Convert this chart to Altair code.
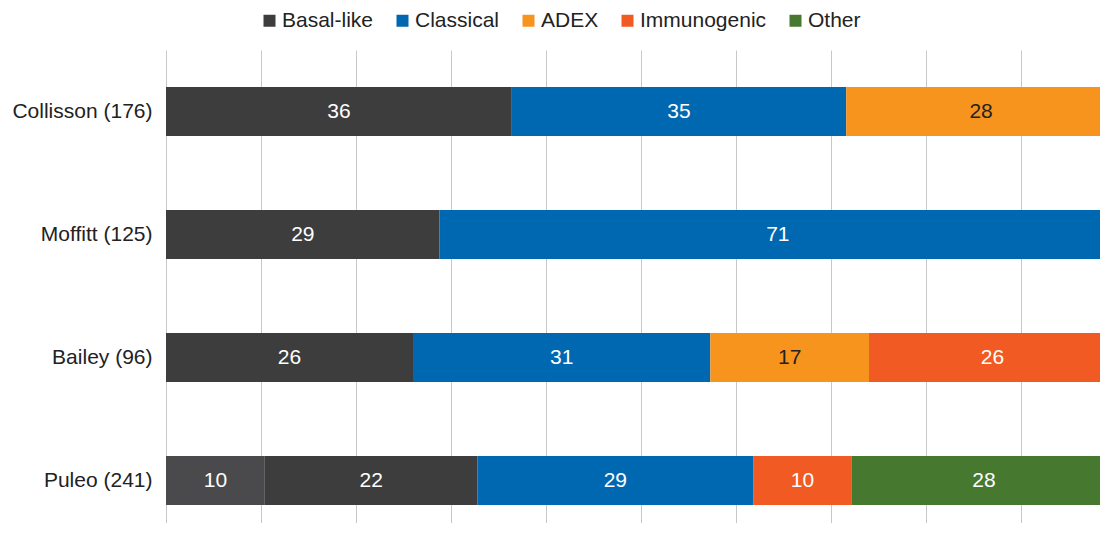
import altair as alt
import pandas as pd

# --- data (percent of cohort) ---
cohorts = ["Collisson (176)", "Moffitt (125)", "Bailey (96)", "Puleo (241)"]
collisson_types = ["Basal-like", "Classical", "ADEX"]
collisson_vals = [36.4, 35.2, 28.4]
moffitt_types = ["Basal-like", "Classical"]
moffitt_vals = [28.8, 71.2]
bailey_types = ["Basal-like", "Classical", "ADEX", "Immunogenic"]
bailey_vals = [26.0, 31.3, 16.7, 26.0]
puleo_types = ["Basal-like (pure)", "Basal-like", "Classical", "Immunogenic", "Other"]
puleo_vals = [10.4, 22.4, 29.0, 10.4, 27.8]

legend_types = ["Basal-like", "Classical", "ADEX", "Immunogenic", "Other"]
all_types = ["Basal-like (pure)", "Basal-like", "Classical", "ADEX", "Immunogenic", "Other"]
type_colors = ["#4a4a4d", "#3d3d3d", "#0067b1", "#f7941e", "#f15a22", "#46782f"]

rows = []
for cohort, types, vals in zip(
    cohorts,
    [collisson_types, moffitt_types, bailey_types, puleo_types],
    [collisson_vals, moffitt_vals, bailey_vals, puleo_vals],
):
    for i, (t, v) in enumerate(zip(types, vals)):
        rows.append({"cohort": cohort, "type": t, "value": v, "order": i})
df = pd.DataFrame(rows)

FONT = "Liberation Sans"
PLOT_W = 934
PLOT_H = 473
XMAX = PLOT_W / 9.5

base = alt.Chart(df).transform_stack(
    stack="value", groupby=["cohort"], as_=["x0", "x1"], sort=[alt.SortField("order")]
).transform_calculate(mid="(datum.x0 + datum.x1) / 2")

yenc = alt.Y(
    "cohort:N",
    sort=cohorts,
    title=None,
    scale=alt.Scale(range=[0, 492], paddingInner=0.6, paddingOuter=0.3),
    axis=alt.Axis(
        labelFont=FONT, labelFontSize=21, labelColor="#222222",
        ticks=False, domain=False, labelPadding=14, grid=False,
    ),
)

xscale = alt.Scale(domain=[0, XMAX], nice=False, zero=True)

bars = base.mark_bar(clip=True).encode(
    x=alt.X(
        "x0:Q", scale=xscale, title=None,
        axis=alt.Axis(
            orient="top",
            values=[0, 10, 20, 30, 40, 50, 60, 70, 80, 90],
            labels=False, ticks=False, domain=False,
            grid=True, gridColor="#c8c8c8", gridWidth=1,
        ),
    ),
    x2="x1:Q",
    y=yenc,
    color=alt.Color(
        "type:N",
        scale=alt.Scale(domain=all_types, range=type_colors),
        legend=alt.Legend(
            values=legend_types, title=None, orient="none",
            legendX=93, legendY=-40, direction="horizontal",
            symbolType="square", symbolSize=144, symbolStrokeWidth=0,
            labelFont=FONT, labelFontSize=21, labelColor="#222222",
            columnPadding=18, symbolOffset=0, labelOffset=2,
        ),
    ),
)

labels = base.mark_text(font=FONT, fontSize=21, clip=True).encode(
    x=alt.X("mid:Q", scale=xscale),
    y=alt.Y("cohort:N", sort=cohorts),
    text=alt.Text("value:Q", format=".0f"),
    color=alt.condition(
        alt.datum.type == "ADEX", alt.value("#222222"), alt.value("#ffffff")
    ),
)

chart = alt.layer(bars, labels).properties(
    width=PLOT_W, height=PLOT_H,
    autosize=alt.AutoSizeParams(type="none"),
    padding={"left": 158, "top": 42, "right": 0, "bottom": 0},
).configure_view(stroke=None).configure_axis(grid=False)

chart.save("out.html", embed_options={"renderer": "svg", "actions": False})
